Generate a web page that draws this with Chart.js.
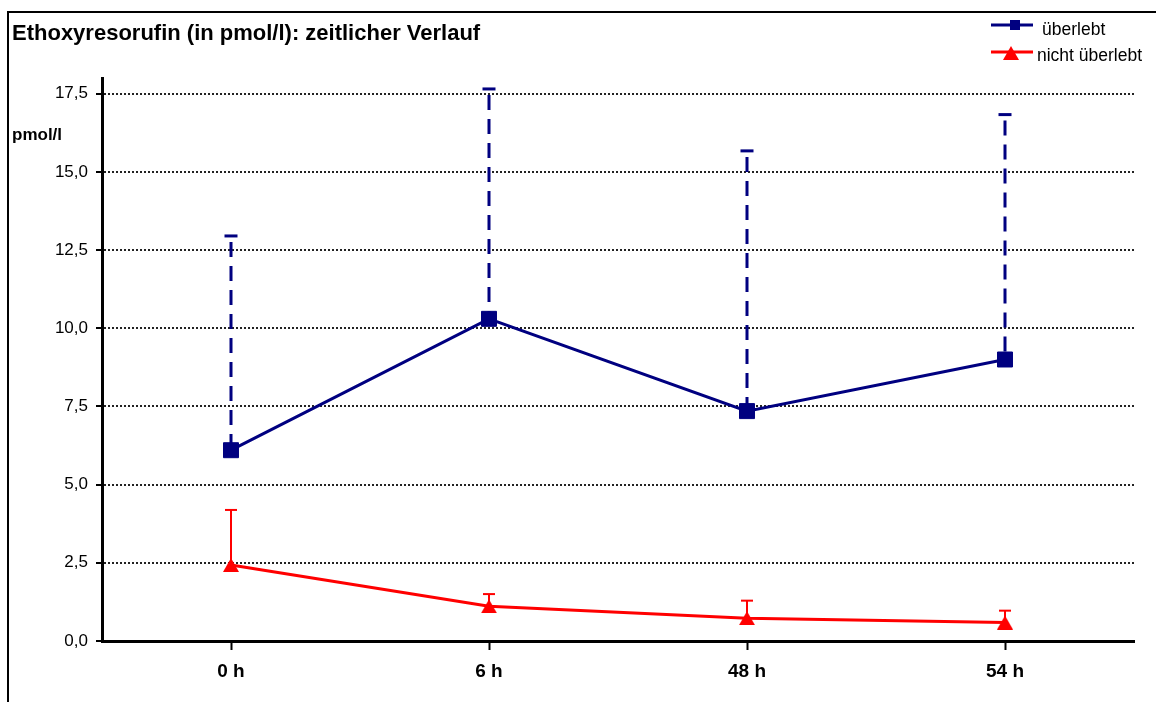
<!DOCTYPE html>
<html>
<head>
<meta charset="utf-8">
<script src="https://cdn.jsdelivr.net/npm/chart.js@4/dist/chart.umd.min.js"></script>
<style>
html,body{margin:0;padding:0;background:#fff;}
#wrap{position:relative;width:1156px;height:702px;}
</style>
</head>
<body>
<div id="wrap"><canvas id="c" width="1156" height="702"></canvas></div>
<script>
const categories = ['0 h', '6 h', '48 h', '54 h'];
const survivedMean = [6.1, 10.3, 7.35, 9.0];
const survivedUpper = [12.95, 17.65, 15.67, 16.83];
const diedMean = [2.43, 1.11, 0.73, 0.59];
const diedUpper = [4.19, 1.5, 1.29, 0.97];
const yTickValues = [0, 2.5, 5, 7.5, 10, 12.5, 15, 17.5];
const seriesLabels = ['überlebt', 'nicht überlebt'];
const chartTitle = 'Ethoxyresorufin (in pmol/l): zeitlicher Verlauf';
const yAxisTitle = 'pmol/l';

const FONT = "'Liberation Sans', Arial, sans-serif";
Chart.defaults.font.family = FONT;
Chart.defaults.color = '#000';

const NAVY = '#000080';
const RED = '#ff0000';

// triangle marker centred on its bounding box
function makeTriangle(w, h, color) {
  const c = document.createElement('canvas');
  c.width = w; c.height = h;
  const g = c.getContext('2d');
  g.fillStyle = color;
  g.beginPath();
  g.moveTo(w / 2, 0);
  g.lineTo(w, h);
  g.lineTo(0, h);
  g.closePath();
  g.fill();
  return c;
}
const triMarker = makeTriangle(16, 14, RED);

const errorBarPlugin = {
  id: 'errorBars',
  beforeDatasetsDraw(chart) {
    const ctx = chart.ctx, ys = chart.scales.y;
    chart.data.datasets.forEach((ds, di) => {
      const eb = ds.errorBar;
      if (!eb) return;
      const meta = chart.getDatasetMeta(di);
      meta.data.forEach((pt, i) => {
        const yTop = ys.getPixelForValue(eb.upper[i]);
        const x = pt.x, y = pt.y;
        ctx.save();
        ctx.strokeStyle = ds.borderColor;
        ctx.lineWidth = eb.width;
        ctx.setLineDash(eb.dash);
        ctx.lineDashOffset = eb.dashOffset;
        ctx.beginPath();
        ctx.moveTo(x, yTop);
        ctx.lineTo(x, y);
        ctx.stroke();
        ctx.setLineDash([]);
        ctx.lineWidth = eb.capThickness;
        ctx.beginPath();
        ctx.moveTo(x - eb.cap / 2, yTop);
        ctx.lineTo(x + eb.cap / 2, yTop);
        ctx.stroke();
        ctx.restore();
      });
    });
  }
};

const decorPlugin = {
  id: 'decor',
  afterDraw(chart) {
    const ctx = chart.ctx;
    ctx.save();
    // frame
    ctx.strokeStyle = '#000';
    ctx.lineWidth = 2;
    ctx.beginPath();
    ctx.moveTo(8, 702);
    ctx.lineTo(8, 12);
    ctx.lineTo(1156, 12);
    ctx.stroke();
    // title
    ctx.fillStyle = '#000';
    ctx.textBaseline = 'alphabetic';
    ctx.textAlign = 'left';
    ctx.font = "bold 22px " + FONT;
    ctx.fillText(chartTitle, 12, 40);
    // y axis title
    ctx.font = "bold 17px " + FONT;
    ctx.fillText(yAxisTitle, 12, 140);
    // legend
    const ds = chart.data.datasets;
    const rows = [{y: 25, tx: 1042, ty: 35}, {y: 52, tx: 1037, ty: 61}];
    ds.forEach((d, i) => {
      const r = rows[i];
      ctx.strokeStyle = d.borderColor;
      ctx.lineWidth = 3;
      ctx.beginPath();
      ctx.moveTo(991, r.y);
      ctx.lineTo(1033, r.y);
      ctx.stroke();
      if (i === 0) {
        ctx.fillStyle = d.borderColor;
        ctx.fillRect(1010, r.y - 5, 10, 10);
      } else {
        ctx.drawImage(triMarker, 1003, r.y - 6);
      }
      ctx.fillStyle = '#000';
      ctx.font = "17.5px " + FONT;
      ctx.fillText(d.label, r.tx, r.ty);
    });
    ctx.restore();
  }
};

new Chart(document.getElementById('c'), {
  type: 'line',
  data: {
    labels: categories,
    datasets: [
      {
        label: seriesLabels[0],
        data: survivedMean,
        borderColor: NAVY,
        backgroundColor: NAVY,
        borderWidth: 3,
        tension: 0,
        fill: false,
        pointStyle: 'rect',
        pointRadius: 10.6,
        pointHoverRadius: 10.6,
        pointBorderWidth: 1,
        pointBackgroundColor: NAVY,
        pointBorderColor: NAVY,
        errorBar: {upper: survivedUpper, width: 3, dash: [15, 9], dashOffset: 18, cap: 13, capThickness: 3}
      },
      {
        label: seriesLabels[1],
        data: diedMean,
        borderColor: RED,
        backgroundColor: RED,
        borderWidth: 3,
        tension: 0,
        fill: false,
        pointStyle: triMarker,
        pointRadius: 8,
        pointHoverRadius: 8,
        errorBar: {upper: diedUpper, width: 2, dash: [], dashOffset: 0, cap: 12, capThickness: 2}
      }
    ]
  },
  options: {
    responsive: false,
    animation: false,
    devicePixelRatio: 1,
    layout: {padding: {top: 78, right: 22, left: 0, bottom: 0}},
    plugins: {legend: {display: false}, title: {display: false}, tooltip: {enabled: false}},
    scales: {
      x: {
        type: 'category',
        offset: true,
        grid: {display: true, drawOnChartArea: false, drawTicks: true, tickLength: 9, tickWidth: 2, tickColor: '#000', offset: false},
        border: {display: true, color: '#000', width: 3},
        ticks: {color: '#000', font: {size: 19, weight: 'bold'}, padding: 10, maxRotation: 0},
        afterFit(s) { s.height = 61; }
      },
      y: {
        min: 0,
        max: 18,
        afterBuildTicks(s) { s.ticks = yTickValues.map(v => ({value: v})); },
        grid: {color: '#222', lineWidth: 2, drawTicks: true, tickLength: 6, tickWidth: 2, tickColor: '#000'},
        border: {display: true, color: '#000', width: 3, dash: [2, 2]},
        ticks: {color: '#000', font: {size: 17}, padding: 8, callback: v => v.toFixed(1).replace('.', ',')},
        afterFit(s) { s.width = 102; }
      }
    }
  },
  plugins: [errorBarPlugin, decorPlugin]
});
</script>
</body>
</html>
